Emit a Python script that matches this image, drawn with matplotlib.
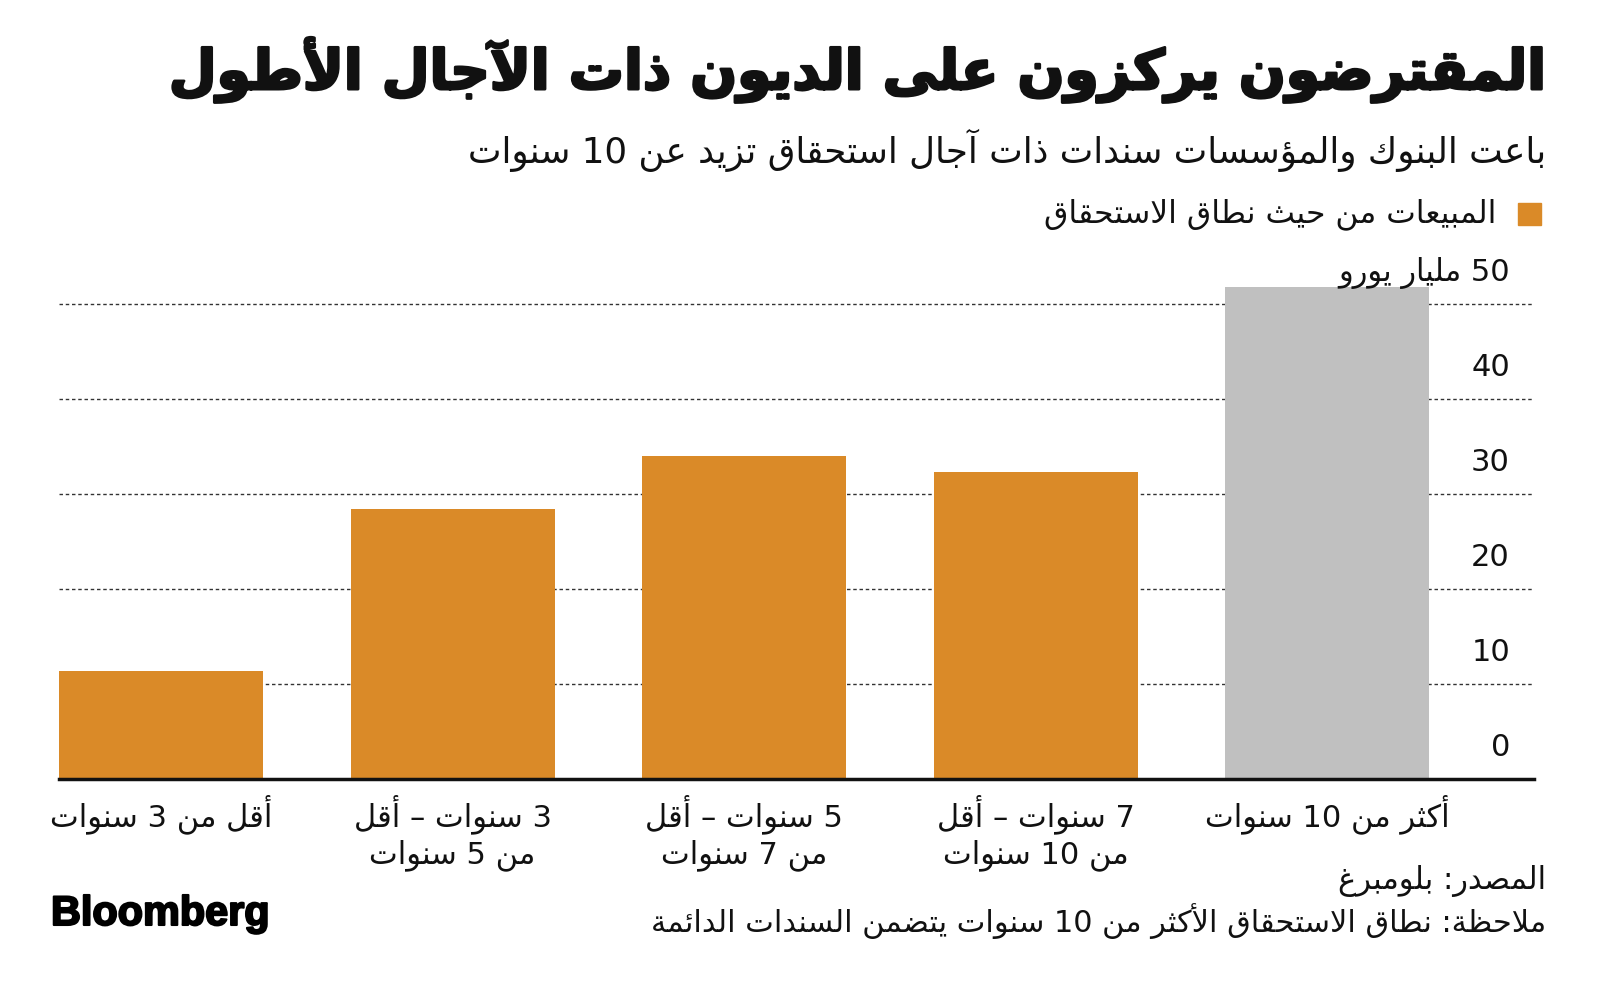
import re
import matplotlib
matplotlib.use('Agg')
import matplotlib.pyplot as plt
import matplotlib.patheffects as pe
from matplotlib.patches import Rectangle

# بيانات الرسم
title = 'المقترضون يركزون على الديون ذات الآجال الأطول'
subtitle = 'باعت البنوك والمؤسسات سندات ذات آجال استحقاق تزيد عن 10 سنوات'
legend_label = 'المبيعات من حيث نطاق الاستحقاق'
categories = ['أقل من 3 سنوات',
              '3 سنوات – أقل\nمن 5 سنوات',
              '5 سنوات – أقل\nمن 7 سنوات',
              '7 سنوات – أقل\nمن 10 سنوات',
              'أكثر من 10 سنوات']
sales = [11.4, 28.4, 34.0, 32.3, 51.8]
y_ticks = [0, 10, 20, 30, 40, 50]
y_labels = ['0', '10', '20', '30', '40', '50 مليار يورو']
source = 'المصدر: بلومبرغ'
note = 'ملاحظة: نطاق الاستحقاق الأكثر من 10 سنوات يتضمن السندات الدائمة'

ORANGE = '#DA8A28'
GREY = '#C0C0C0'
INK = '#111111'
FS = 22

# تشكيل الحروف العربية (matplotlib لا يشكل النص العربي بنفسه)
letters = 'ءآأؤإئابةتثجحخدذرزسشصضطظعغفقكلمنهوىي'
nforms = [1, 2, 2, 2, 2, 4, 2, 4, 2, 4, 4, 4, 4, 4, 2, 2, 2, 2, 4, 4,
          4, 4, 4, 4, 4, 4, 4, 4, 4, 4, 4, 4, 4, 2, 2, 4]
FORMS = {}
code = 0xFE80
for ch, n in zip(letters, nforms):
    FORMS[ch] = (code, n)
    code += n
LAMALEF = {'آ': 0xFEF5, 'أ': 0xFEF7, 'إ': 0xFEF9, 'ا': 0xFEFB}


def shape(s):
    out = []
    i = 0
    while i < len(s):
        c = s[i]
        if c not in FORMS:
            out.append(c)
            i += 1
            continue
        prev = s[i - 1] if i > 0 else ''
        jp = prev in FORMS and FORMS[prev][1] == 4
        if c == 'ل' and i + 1 < len(s) and s[i + 1] in LAMALEF:
            out.append(chr(LAMALEF[s[i + 1]] + (1 if jp else 0)))
            i += 2
            continue
        base, n = FORMS[c]
        nxt = s[i + 1] if i + 1 < len(s) else ''
        jn = n == 4 and nxt in FORMS and FORMS[nxt][1] >= 2
        if n == 1:
            f = base
        elif n == 2:
            f = base + 1 if jp else base
        else:
            f = base + (3 if jp and jn else 1 if jp else 2 if jn else 0)
        out.append(chr(f))
        i += 1
    return ''.join(out)


def ar(s):
    lines = []
    for line in s.split('\n'):
        tokens = re.findall(r'[0-9]+|.', shape(line))
        lines.append(''.join(reversed(tokens)))
    return '\n'.join(lines)


plt.rcParams['font.family'] = ['DejaVu Sans']
W, H = 1600, 995
fig = plt.figure(figsize=(W / 100, H / 100), dpi=100)
renderer = fig.canvas.get_renderer()


def fx(px):
    return px / W


def fy(py):
    return 1 - py / H


def fit(t, width_px):
    w = t.get_window_extent(renderer).width
    t.set_fontsize(t.get_fontsize() * width_px / w)


# العنوان
t = fig.text(fx(1546), fy(71), ar(title), ha='right', va='center',
             fontsize=40, fontweight='bold', color=INK,
             path_effects=[pe.withStroke(linewidth=2, foreground=INK)])
fit(t, 1376)
t = fig.text(fx(1546), fy(150), ar(subtitle), ha='right', va='center',
             fontsize=20, color=INK)
fit(t, 1080)

# وسيلة الإيضاح
fig.patches.append(Rectangle((fx(1518), fy(226)), fx(23), 22 / H,
                             transform=fig.transFigure, color=ORANGE))
t = fig.text(fx(1496), fy(214), ar(legend_label), ha='right', va='center',
             fontsize=FS, color=INK)
fit(t, 450)

# المحاور
ax = fig.add_axes([fx(59), fy(780), fx(1475), (780 - 257.5) / H])
x = range(len(sales))
colors = [ORANGE] * (len(sales) - 1) + [GREY]
ax.bar(x, sales, width=0.7, color=colors, zorder=2)
ax.set_xlim(-0.35, 4.71)
ax.set_ylim(0, 55)

for v in y_ticks[1:]:
    ax.axhline(v, color='#333333', lw=1, linestyle=(0, (2.5, 2)), zorder=1)
ytr = ax.get_yaxis_transform()
for v, lab in zip(y_ticks, y_labels):
    ax.text(0.9837, v + 2.5, ar(lab), transform=ytr, ha='right',
            va='baseline', fontsize=FS, color=INK, zorder=3)

for s in ['top', 'left', 'right']:
    ax.spines[s].set_visible(False)
ax.spines['bottom'].set_linewidth(2.5)
ax.spines['bottom'].set_color(INK)
ax.spines['bottom'].set_zorder(4)
ax.set_yticks([])
ax.set_xticks(list(x))
ax.set_xticklabels([ar(c) for c in categories], fontsize=FS, color=INK,
                   linespacing=1.25)
ax.tick_params(axis='x', length=0, pad=10)

# المصدر والملاحظة
fig.text(fx(1546), fy(881), ar(source), ha='right', va='center',
         fontsize=FS, color=INK)
t = fig.text(fx(1546), fy(921), ar(note), ha='right', va='center',
             fontsize=FS, color=INK)
fit(t, 896)
t = fig.text(fx(51), fy(915), 'Bloomberg', ha='left', va='center',
             fontsize=24, fontweight='bold', family='Liberation Sans',
             color='black',
             path_effects=[pe.withStroke(linewidth=1.5, foreground='black')])
fit(t, 219)

fig.savefig('out.png', dpi=100, facecolor='white')
